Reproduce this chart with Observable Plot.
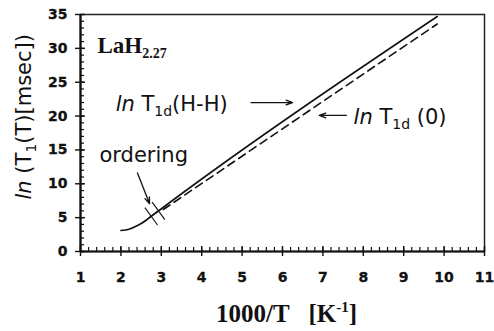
<!DOCTYPE html>
<html><head><meta charset="utf-8">
<script src="https://cdn.jsdelivr.net/npm/d3@7"></script>
<script src="https://cdn.jsdelivr.net/npm/@observablehq/plot@0.6"></script>
<style>body{margin:0;background:#fff;} svg{display:block}</style>
</head><body><div id="chart"></div>
<script>
// ---- data ----
const solidX = [2.0, 2.2, 2.4, 2.6, 2.75, 2.93, 3.2, 9.83];
const solidY = [3.1, 3.3, 3.8, 4.5, 5.2, 6.0, 7.2, 34.7];
const dashX = [3.05, 9.83];
const dashY = [6.2, 33.6];
const orderX = [2.75, 2.93];
const orderY = [5.2, 6.0];
const xTicks = [1, 2, 3, 4, 5, 6, 7, 8, 9, 10, 11];
const yTicks = [0, 5, 10, 15, 20, 25, 30, 35];
const xMinor = d3.range(0, 51).map(i => 1 + i / 5);
const yMinor = d3.range(0, 36);
const arrowX1 = [2.41, 5.22, 7.58];
const arrowY1 = [11.6, 22.0, 20.1];
const arrowX2 = [2.71, 6.25, 6.91];
const arrowY2 = [7.05, 22.0, 20.1];
const noteText = ["ln T1d(H-H)", "ordering", "ln T1d (0)"];
const noteX = [1.87, 1.47, 7.76];
const noteY = [21.7, 14.2, 19.8];
const sampleText = ["LaH2.27"];
const sampleX = [1.42];
const sampleY = [30.4];
const xTitle = "1000/T [K-1]";
const yTitle = "ln (T1(T)[msec])";

const W = 494, H = 331;
const mL = 80, mR = 10, mT = 14, mB = 80;
const fw = W - mL - mR, fh = H - mT - mB;
const ink = "#111";

const solid = solidX.map((x, i) => ({x, y: solidY[i]}));
const dashed = dashX.map((x, i) => ({x, y: dashY[i]}));
const order = orderX.map((x, i) => ({x, y: orderY[i]}));
const arrows = arrowX1.map((x, i) => ({x1: x, y1: arrowY1[i], x2: arrowX2[i], y2: arrowY2[i]}));
const notes = noteText.map((t, i) => ({t, x: noteX[i], y: noteY[i]}));
const samples = sampleText.map((t, i) => ({t, x: sampleX[i], y: sampleY[i]}));

const svg = Plot.plot({
  width: W, height: H,
  marginLeft: mL, marginRight: mR, marginTop: mT, marginBottom: mB,
  x: {domain: [1, 11]},
  y: {domain: [0, 35]},
  style: {fontFamily: "DejaVu Sans", fontSize: "14px", color: ink, background: "white"},
  marks: [
    Plot.frame({stroke: "#222", strokeWidth: 1.5}),
    Plot.ruleX([1], {stroke: ink, strokeWidth: 2.2}),
    Plot.ruleY([0], {stroke: ink, strokeWidth: 2.2}),
    Plot.tickX(xMinor, {x: d => d, insetTop: fh - 4, stroke: ink, strokeWidth: 1.2}),
    Plot.tickX(xTicks, {x: d => d, insetTop: fh - 5, insetBottom: -5, stroke: ink, strokeWidth: 1.4}),
    Plot.tickY(yMinor, {y: d => d, insetRight: fw - 4, stroke: ink, strokeWidth: 1.2}),
    Plot.tickY(yTicks, {y: d => d, insetRight: fw - 5, insetLeft: -5, stroke: ink, strokeWidth: 1.4}),
    Plot.axisX({ticks: xTicks, tickSize: 0, tickPadding: 21, label: null, fontSize: 14, fontWeight: "bold", fill: ink}),
    Plot.axisY({ticks: yTicks, tickSize: 0, tickPadding: 13, label: null, fontSize: 14, fontWeight: "bold", fill: ink}),
    Plot.line(solid, {x: "x", y: "y", stroke: ink, strokeWidth: 1.6, curve: "monotone-x"}),
    Plot.line(dashed, {x: "x", y: "y", stroke: ink, strokeWidth: 1.6, strokeDasharray: "8,5"}),
    Plot.dot(order, {x: "x", y: "y", symbol: "plus", r: 7, rotate: -36, stroke: ink, strokeWidth: 1.1}),
    Plot.arrow(arrows, {x1: "x1", y1: "y1", x2: "x2", y2: "y2", stroke: ink, strokeWidth: 1.3, headLength: 8, headAngle: 40, bend: 0}),
    Plot.text(notes, {x: "x", y: "y", text: "t", textAnchor: "start", lineAnchor: "middle", fontSize: 21, fontWeight: "normal", fill: ink}),
    Plot.text(samples, {x: "x", y: "y", text: "t", textAnchor: "start", lineAnchor: "middle", fontFamily: "Liberation Serif", fontSize: 23, fontWeight: "bold", fill: ink}),
    Plot.text([xTitle], {x: 6.1, frameAnchor: "bottom", dy: 62, text: d => d, textAnchor: "middle", fontFamily: "Liberation Serif", fontSize: 25, fontWeight: "bold", lineAnchor: "middle", fill: ink}),
    Plot.text([yTitle], {y: 19.9, frameAnchor: "left", dx: -56, rotate: -90, text: d => d, textAnchor: "middle", fontSize: 21, fontWeight: "normal", lineAnchor: "middle", fill: ink})
  ]
});

// bold tick labels (set directly on each numeric label)
svg.querySelectorAll("text").forEach(t => {
  if (/^\d+$/.test(t.textContent.trim())) {
    t.setAttribute("font-weight", "bold");
    t.style.fontWeight = "bold";
    t.style.fontSize = "14px";
    t.style.fontFamily = "'DejaVu Sans'";
    t.setAttribute("stroke", ink);
    t.setAttribute("stroke-width", "0.3");
  }
});

// rich-text (italics, sub/superscripts) for the annotation strings
const rich = {
  "ln T1d(H-H)": '<tspan font-style="italic">ln</tspan> T<tspan font-size="14" dy="5">1d</tspan><tspan dy="-5">(H-H)</tspan>',
  "ln T1d (0)": '<tspan font-style="italic">ln</tspan> T<tspan font-size="14" dy="5">1d</tspan><tspan dy="-5"> (0)</tspan>',
  "LaH2.27": 'LaH<tspan font-size="14" dy="5">2.27</tspan>',
  "1000/T [K-1]": '1000/T\u00a0\u00a0\u00a0[K<tspan font-size="15" dy="-10">-1</tspan><tspan dy="10">]</tspan>',
  "ln (T1(T)[msec])": '<tspan font-style="italic">ln</tspan> (T<tspan font-size="14" dy="5">1</tspan><tspan dy="-5">(T)[msec])</tspan>'
};
svg.querySelectorAll("text").forEach(t => {
  const k = t.textContent;
  if (rich[k]) t.innerHTML = rich[k];
});
document.getElementById("chart").appendChild(svg);
</script>
</body></html>
